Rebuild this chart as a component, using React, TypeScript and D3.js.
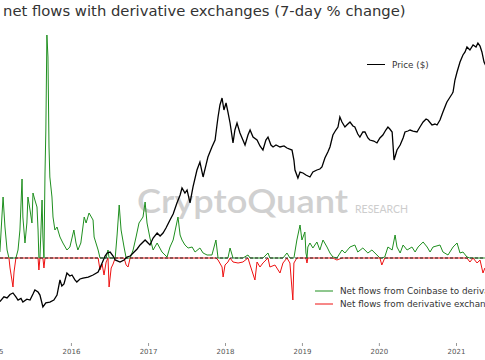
import { useRef, useEffect } from 'react';
import * as d3 from 'd3';

// BTC price ($), log scale
const priceDates = [
  '2015-01-29', '2015-02-17', '2015-03-04', '2015-03-18', '2015-04-01', '2015-04-15', '2015-04-25', '2015-05-09',
  '2015-05-18', '2015-06-06', '2015-06-21', '2015-07-05', '2015-07-14', '2015-07-29', '2015-08-07', '2015-08-21',
  '2015-09-04', '2015-09-23', '2015-10-12', '2015-10-27', '2015-11-10', '2015-11-19', '2015-11-29', '2015-12-13',
  '2015-12-27', '2016-01-06', '2016-01-20', '2016-01-29', '2016-02-13', '2016-02-27', '2016-03-23', '2016-04-15',
  '2016-05-09', '2016-05-28', '2016-06-11', '2016-06-21', '2016-07-05', '2016-07-19', '2016-07-29', '2016-08-21',
  '2016-09-09', '2016-09-23', '2016-10-08', '2016-10-22', '2016-11-10', '2016-11-24', '2016-12-18', '2017-01-01',
  '2017-01-10', '2017-01-25', '2017-02-13', '2017-02-27', '2017-03-13', '2017-03-27', '2017-04-15', '2017-04-30',
  '2017-05-18', '2017-06-02', '2017-06-11', '2017-06-25', '2017-07-05', '2017-07-19', '2017-08-02', '2017-08-21',
  '2017-09-04', '2017-09-19', '2017-10-03', '2017-10-12', '2017-10-31', '2017-11-15', '2017-11-24', '2017-11-29',
  '2017-12-08', '2017-12-18', '2017-12-27', '2018-01-06', '2018-01-15', '2018-01-25', '2018-02-08', '2018-02-17',
  '2018-02-27', '2018-03-13', '2018-03-27', '2018-04-06', '2018-04-20', '2018-04-30', '2018-05-14', '2018-06-02',
  '2018-06-16', '2018-06-30', '2018-07-14', '2018-07-24', '2018-08-07', '2018-08-17', '2018-08-31', '2018-09-19',
  '2018-10-08', '2018-10-22', '2018-11-15', '2018-11-24', '2018-11-29', '2018-12-13', '2018-12-23', '2019-01-06',
  '2019-01-20', '2019-02-08', '2019-02-22', '2019-03-13', '2019-03-27', '2019-04-06', '2019-04-20', '2019-05-04',
  '2019-05-14', '2019-05-28', '2019-06-11', '2019-06-21', '2019-06-30', '2019-07-10', '2019-07-24', '2019-08-02',
  '2019-08-17', '2019-08-31', '2019-09-09', '2019-09-23', '2019-10-03', '2019-10-17', '2019-10-27', '2019-11-10',
  '2019-11-19', '2019-12-08', '2019-12-23', '2020-01-06', '2020-01-20', '2020-02-03', '2020-02-13', '2020-02-22',
  '2020-03-04', '2020-03-13', '2020-03-23', '2020-03-27', '2020-04-11', '2020-04-25', '2020-05-04', '2020-05-18',
  '2020-05-28', '2020-06-11', '2020-06-30', '2020-07-14', '2020-07-29', '2020-08-12', '2020-08-21', '2020-09-09',
  '2020-09-23', '2020-10-03', '2020-10-17', '2020-10-31', '2020-11-15', '2020-11-19', '2020-12-04', '2020-12-13',
  '2020-12-18', '2020-12-27', '2021-01-06', '2021-01-20', '2021-02-03', '2021-02-13', '2021-02-22', '2021-03-08',
  '2021-03-23', '2021-04-06', '2021-04-15', '2021-04-25', '2021-05-04', '2021-05-14', '2021-05-23',
];
const priceUsd = [
  205, 228, 222, 240, 248, 227, 212, 220,
  203, 216, 212, 242, 265, 253, 237, 182,
  199, 203, 212, 237, 331, 289, 303, 386,
  361, 369, 331, 316, 338, 345, 353, 369,
  395, 482, 562, 601, 614, 562, 515, 492,
  515, 550, 562, 601, 657, 718, 801, 750,
  718, 838, 936, 876, 936, 1045, 1248, 1426,
  1820, 2172, 2535, 2268, 2426, 1820, 2590, 3774,
  4505, 3235, 4220, 5035, 6285, 7330, 10220, 12205,
  15920, 18590, 14250, 16640, 13630, 10690, 6870, 9150,
  10690, 8565, 7330, 6565, 8190, 9150, 7830, 7330,
  6425, 5875, 7330, 7830, 6565, 6285, 6565, 6285,
  6425, 6140, 5875, 4710, 3775, 3160, 3610, 3535,
  3380, 3235, 3610, 3775, 3860, 4040, 4920, 5620,
  6285, 8190, 9150, 9780, 12205, 10920, 9780, 10220,
  10920, 10000, 9780, 8375, 7830, 8760, 8760, 7670,
  7330, 7175, 6870, 7670, 8190, 9150, 9780, 9360,
  8760, 4710, 5495, 5875, 6565, 7670, 8760, 8950,
  9150, 8950, 8760, 9780, 10920, 11680, 11420, 10220,
  10450, 10220, 11420, 13630, 16280, 17020, 19010, 20310,
  21230, 27680, 33050, 41230, 48180, 51500, 57540, 53820,
  60130, 57540, 62850, 58760, 51500, 41230, 37940,
];

// 7-day % change of net flows
const flowDates = [
  '2015-01-29', '2015-02-08', '2015-02-13', '2015-02-22', '2015-03-04', '2015-03-13', '2015-03-18', '2015-03-27',
  '2015-04-01', '2015-04-06', '2015-04-15', '2015-04-25', '2015-05-04', '2015-05-14', '2015-05-18', '2015-05-28',
  '2015-06-06', '2015-06-11', '2015-06-21', '2015-06-30', '2015-07-05', '2015-07-14', '2015-07-24', '2015-07-29',
  '2015-08-02', '2015-08-07', '2015-08-17', '2015-08-21', '2015-08-26', '2015-08-31', '2015-09-04', '2015-09-09',
  '2015-09-14', '2015-09-19', '2015-09-23', '2015-10-03', '2015-10-08', '2015-10-17', '2015-10-27', '2015-11-10',
  '2015-11-24', '2015-12-13', '2015-12-27', '2016-01-15', '2016-01-25', '2016-02-03', '2016-02-17', '2016-03-04',
  '2016-03-13', '2016-03-27', '2016-04-15', '2016-04-20', '2016-05-09', '2016-05-18', '2016-05-28', '2016-06-06',
  '2016-06-16', '2016-06-25', '2016-06-30', '2016-07-10', '2016-07-19', '2016-07-29', '2016-08-07', '2016-08-17',
  '2016-08-26', '2016-09-09', '2016-09-19', '2016-09-28', '2016-10-08', '2016-10-22', '2016-11-05', '2016-11-19',
  '2016-12-08', '2016-12-18', '2016-12-27', '2017-01-10', '2017-01-25', '2017-02-13', '2017-03-08', '2017-04-01',
  '2017-04-15', '2017-04-30', '2017-05-18', '2017-05-23', '2017-06-02', '2017-06-11', '2017-06-25', '2017-07-10',
  '2017-07-29', '2017-08-12', '2017-09-04', '2017-09-19', '2017-10-08', '2017-10-31', '2017-11-19', '2017-11-29',
  '2017-12-18', '2017-12-23', '2018-01-01', '2018-01-15', '2018-01-25', '2018-02-08', '2018-03-04', '2018-03-27',
  '2018-04-20', '2018-04-30', '2018-05-23', '2018-06-02', '2018-06-16', '2018-06-30', '2018-07-24', '2018-08-02',
  '2018-08-26', '2018-09-19', '2018-10-03', '2018-10-22', '2018-11-05', '2018-11-19', '2018-11-24', '2018-12-08',
  '2018-12-23', '2019-01-01', '2019-01-15', '2019-01-20', '2019-01-25', '2019-01-29', '2019-02-08', '2019-02-22',
  '2019-03-13', '2019-03-27', '2019-04-11', '2019-04-30', '2019-05-14', '2019-05-28', '2019-06-16', '2019-07-10',
  '2019-07-24', '2019-08-17', '2019-09-09', '2019-09-23', '2019-10-17', '2019-11-10', '2019-11-29', '2019-12-23',
  '2020-01-06', '2020-01-15', '2020-01-29', '2020-02-13', '2020-03-04', '2020-03-18', '2020-03-27', '2020-04-11',
  '2020-04-25', '2020-05-14', '2020-06-06', '2020-06-21', '2020-07-05', '2020-07-29', '2020-08-17', '2020-08-31',
  '2020-09-14', '2020-10-17', '2020-10-31', '2020-11-24', '2020-12-18', '2021-01-06', '2021-01-20', '2021-02-03',
  '2021-02-22', '2021-03-08', '2021-03-23', '2021-04-11', '2021-04-25', '2021-05-09', '2021-05-18',
];
const coinbaseToDerivatives = [
  12, 86, 122, 62, 16, 0, 0, 0,
  0, 0, 0, 16, 56, 158, 82, 30,
  70, 122, 96, 70, 130, 116, 102, 56,
  0, 0, 116, 42, 0, 170, 256, 446,
  402, 222, 162, 122, 82, 56, 62, 42,
  30, 16, 22, 56, 30, 16, 30, 82,
  70, 90, 76, 42, 16, 0, 0, 0,
  0, 16, 0, 0, 0, 0, 46, 106,
  56, 22, 0, 0, 0, 16, 42, 70,
  82, 112, 70, 40, 16, 30, 12, 2,
  22, 36, 72, 82, 46, 36, 26, 20,
  22, 12, 20, 10, 6, 6, 36, 0,
  0, 0, 0, 0, 20, 0, 0, 0,
  6, 0, 0, 0, 0, 0, 10, 0,
  0, 0, 0, 10, 0, 0, 0, 36,
  66, 36, 52, 10, 0, 22, 30, 20,
  32, 16, 36, 22, 10, 2, 0, 16,
  10, 22, 26, 12, 20, 10, 16, 6,
  0, 0, 2, 22, 16, 46, 22, 10,
  26, 16, 22, 12, 22, 32, 22, 12,
  22, 26, 12, 6, 22, 30, 10, 12,
  2, 0, 0, 0, 0, 0, 0,
];
const derivativesToCoinbase = [
  0, 0, 0, 0, 0, 0, -20, -44,
  -58, -28, 0, 0, 0, 0, 0, 0,
  0, 0, 0, 0, 0, 0, 0, 0,
  -24, 0, 0, 0, -20, 0, 0, 0,
  0, 0, 0, 0, 0, 0, 0, 0,
  0, 0, 0, 0, 0, 0, 0, 0,
  0, 0, 0, 0, 0, -24, -12, -34,
  -8, 0, -58, -20, -12, 0, 0, 0,
  0, 0, -14, -18, 0, 0, 0, 0,
  0, 0, 0, 0, 0, 0, 0, 0,
  0, 0, 0, 0, 0, 0, 0, 0,
  0, 0, 0, 0, 0, 0, 0, -4,
  -18, -38, -14, -8, 0, -8, -10, -8,
  0, -14, -44, -8, -18, -10, 0, -18,
  -14, -30, -10, 0, -10, -84, -10, 0,
  0, 0, 0, 0, -10, 0, 0, 0,
  0, 0, 0, 0, 0, 0, -4, 0,
  0, 0, 0, 0, 0, 0, 0, 0,
  0, -14, 0, 0, 0, 0, 0, 0,
  0, 0, 0, 0, 0, 0, 0, 0,
  0, 0, 0, 0, 0, 0, 0, 0,
  0, -8, 0, -10, -4, -30, -20,
];

const flowLegend = ['Net flows from Coinbase to derivative exchanges', 'Net flows from derivative exchanges to Coinbase'];
const priceLegend = 'Price ($)';
const title = 'net flows with derivative exchanges (7-day % change)';

const W = 485;
const H = 360;
const FONT = 'DejaVu Sans, sans-serif';
const GREEN = '#1f8f1f';
const RED = '#ee1111';

const App = () => {
  const ref = useRef<SVGSVGElement>(null);

  useEffect(() => {
    const svg = d3.select(ref.current);
    svg.selectAll('*').remove();

    const parse = d3.timeParse('%Y-%m-%d');

    const x = d3.scaleTime()
      .domain([new Date(2015, 0, 1), new Date(2021, 0, 1)])
      .range([-6, 456]);

    const yPrice = d3.scaleLog()
      .domain([100, 100000])
      .range([334, 22]);

    const yFlow = d3.scaleLinear()
      .domain([0, 446])
      .range([258, 35]);

    svg.append('rect').attr('width', W).attr('height', H).attr('fill', '#fff');

    // watermark
    svg.append('text')
      .attr('x', 137).attr('y', 213)
      .attr('textLength', 211).attr('lengthAdjust', 'spacingAndGlyphs')
      .attr('font-family', 'Lato, sans-serif').attr('font-size', 33)
      .attr('font-weight', 600)
      .attr('fill', '#d0d0d0')
      .text('CryptoQuant');
    svg.append('text')
      .attr('x', 355).attr('y', 213)
      .attr('textLength', 53).attr('lengthAdjust', 'spacingAndGlyphs')
      .attr('font-family', 'Lato, sans-serif').attr('font-size', 11.5)
      .attr('fill', '#cdcdcd')
      .text('RESEARCH');

    // title
    svg.append('text')
      .attr('x', 3).attr('y', 16)
      .attr('font-family', FONT).attr('font-size', 14.8)
      .attr('fill', '#333')
      .text(title);

    // x axis
    const axis = svg.append('g')
      .attr('transform', 'translate(0, 343)')
      .call(d3.axisBottom(x)
        .ticks(d3.timeYear.every(1))
        .tickFormat(d3.timeFormat('%Y') as any)
        .tickSize(3));
    axis.select('.domain').remove();
    axis.selectAll('line').attr('stroke', '#999');
    axis.selectAll('text')
      .attr('fill', '#555')
      .attr('font-family', FONT)
      .attr('font-size', 7);

    const flowData = flowDates.map((d, i) => ({
      date: parse(d) as Date,
      g: coinbaseToDerivatives[i],
      r: derivativesToCoinbase[i],
    }));

    svg.append('path')
      .datum(flowData)
      .attr('fill', 'none')
      .attr('stroke', GREEN)
      .attr('stroke-width', 1)
      .attr('d', d3.line<any>().x(d => x(d.date)).y(d => yFlow(d.g)));

    svg.append('path')
      .datum(flowData)
      .attr('fill', 'none')
      .attr('stroke', RED)
      .attr('stroke-width', 1)
      .attr('d', d3.line<any>().x(d => x(d.date)).y(d => yFlow(d.r)));

    // zero line
    svg.append('line')
      .attr('x1', 0).attr('x2', W)
      .attr('y1', yFlow(0)).attr('y2', yFlow(0))
      .attr('stroke', '#222')
      .attr('stroke-width', 1)
      .attr('stroke-dasharray', '3,2');

    const priceData = priceDates.map((d, i) => ({ date: parse(d) as Date, v: priceUsd[i] }));
    svg.append('path')
      .datum(priceData)
      .attr('fill', 'none')
      .attr('stroke', '#000')
      .attr('stroke-width', 1.3)
      .attr('d', d3.line<any>().x(d => x(d.date)).y(d => yPrice(d.v)));

    // legends
    const legend = (x0: number, y0: number, color: string, label: string) => {
      svg.append('line')
        .attr('x1', x0).attr('x2', x0 + 18)
        .attr('y1', y0).attr('y2', y0)
        .attr('stroke', color).attr('stroke-width', 1);
      svg.append('text')
        .attr('x', x0 + 25).attr('y', y0 + 3)
        .attr('font-family', FONT).attr('font-size', 8.8)
        .attr('fill', '#333')
        .text(label);
    };
    legend(367, 64.5, '#000', priceLegend);
    legend(315, 291, GREEN, flowLegend[0]);
    legend(315, 304, RED, flowLegend[1]);
  }, []);

  return (
    <svg ref={ref} width={W} height={H} style={{ position: 'absolute', left: 0, top: 0 }}></svg>
  );
};

export default App;
